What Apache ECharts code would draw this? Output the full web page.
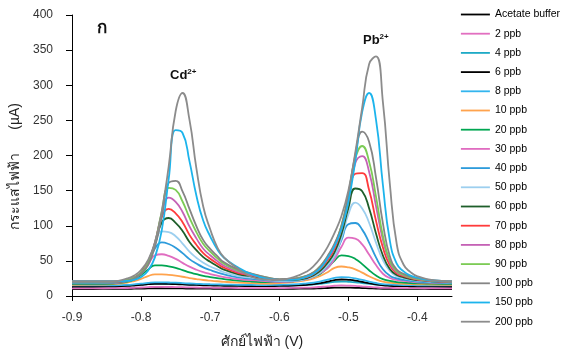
<!DOCTYPE html>
<html lang="th">
<head>
<meta charset="UTF-8">
<title>Cd Pb voltammogram</title>
<script src="https://cdn.jsdelivr.net/npm/echarts@6/dist/echarts.min.js"></script>
<style>
  html, body { margin: 0; padding: 0; background: #fff; }
  #main { width: 562px; height: 354px; }
</style>
</head>
<body>
<div id="main"></div>
<script>
// potential (V), shared by every curve
var potential = [-0.90, -0.87, -0.84, -0.82, -0.81, -0.80, -0.79, -0.78, -0.77, -0.76,
                 -0.75, -0.74, -0.73, -0.72, -0.71, -0.70, -0.69, -0.68, -0.66, -0.64,
                 -0.62, -0.60, -0.58, -0.56, -0.55, -0.54, -0.53, -0.52, -0.51, -0.50,
                 -0.49, -0.48, -0.47, -0.46, -0.45, -0.44, -0.43, -0.42, -0.41, -0.40,
                 -0.38, -0.35];

// current (uA)
var acetateBuffer = [10, 10, 10.1, 10.2, 10.4, 10.6, 10.8, 11, 11, 10.9, 10.9, 10.8, 10.6, 10.5, 10.5, 10.4, 10.3, 10.3, 10.2, 10.1, 10.1, 10.2, 10.3, 10.5, 10.7, 11, 11.4, 11.8, 12, 11.9, 11.7, 11.3, 10.9, 10.6, 10.3, 10.2, 10.1, 10.1, 10.1, 10.1, 10, 10];
var ppb2 = [11, 11, 11.1, 11.4, 11.7, 12.1, 12.7, 13, 13, 12.9, 12.7, 12.5, 12.3, 12.1, 11.9, 11.8, 11.7, 11.6, 11.4, 11.3, 11.2, 11.3, 11.5, 12, 12.4, 13, 13.7, 14.6, 15, 14.8, 14.4, 13.6, 12.9, 12.2, 11.7, 11.5, 11.3, 11.2, 11.2, 11.1, 11, 11];
var ppb4 = [14.5, 14.5, 14.7, 15.1, 15.6, 16.2, 17, 17.5, 17.5, 17.3, 17.1, 16.8, 16.4, 16.1, 15.9, 15.7, 15.5, 15.3, 15.1, 14.9, 14.8, 15, 15.3, 16, 16.5, 17.4, 18.6, 20, 20.5, 20.2, 19.6, 18.5, 17.3, 16.3, 15.5, 15.2, 14.9, 14.8, 14.7, 14.7, 14.6, 14.5];
var ppb6 = [13.5, 13.5, 13.8, 14.3, 14.9, 15.7, 16.8, 17.4, 17.4, 17.2, 16.9, 16.5, 16, 15.7, 15.3, 15, 14.8, 14.6, 14.3, 14.1, 14, 14.3, 14.8, 16, 16.9, 18.4, 20.4, 22.6, 23.5, 23, 22, 20.1, 18.2, 16.4, 15.2, 14.6, 14.2, 14, 13.9, 13.8, 13.6, 13.5];
var ppb8 = [15, 15, 15.3, 15.9, 16.6, 17.5, 18.7, 19.4, 19.4, 19.2, 18.9, 18.4, 17.8, 17.4, 17, 16.7, 16.5, 16.3, 15.9, 15.7, 15.5, 15.9, 16.6, 18, 19, 20.8, 23.2, 25.9, 27, 26.5, 25.1, 22.9, 20.6, 18.5, 17, 16.4, 15.9, 15.6, 15.5, 15.3, 15.1, 15];
var ppb10 = [16, 16.1, 17, 19.1, 21.3, 24.4, 28.4, 30.8, 30.7, 30, 28.9, 27.4, 25.5, 24.1, 22.8, 21.8, 21, 20.2, 19, 18.2, 17.7, 18.3, 19.7, 22.6, 25, 28.8, 33.9, 40, 42, 40.8, 38, 33.2, 28.1, 23.6, 20.4, 18.9, 17.9, 17.4, 17, 16.7, 16.3, 16];
var ppb20 = [17, 17, 17.8, 20.3, 23.6, 30, 37.4, 43.5, 43.5, 42.1, 40, 36.9, 33.5, 31, 28.6, 26.9, 25.4, 24.1, 22, 20.6, 19.8, 19.9, 21, 24.6, 27.7, 32.2, 40.2, 50.6, 57.7, 56.8, 52.8, 45.3, 36.7, 29.3, 23.9, 21.5, 19.9, 19.1, 18.5, 18.1, 17.5, 17];
var ppb30 = [18, 18, 18.5, 21.2, 24.7, 31.9, 44, 57.8, 59.4, 57, 52.9, 47.2, 41.8, 37.4, 33.9, 31.3, 29, 27, 24.1, 22.5, 21.3, 20.1, 21, 24.2, 27.7, 33, 40.2, 52.5, 70, 83, 81.7, 73.4, 59, 44, 31.7, 25.7, 22.8, 21.4, 20.4, 19.6, 18.8, 18];
var ppb40 = [18.5, 18.5, 19, 21.5, 25.2, 33, 46.9, 67.5, 76.3, 74, 68.7, 61, 52.5, 46.2, 40.8, 37, 33.5, 30.7, 26.6, 24.5, 22.6, 21.1, 21.4, 24.7, 28.6, 34.5, 43, 57.7, 79.4, 102.2, 103.9, 94.5, 76, 55, 38, 29, 25, 23, 21.7, 20.6, 19.5, 18.5];
var ppb50 = [19, 19, 19.4, 22, 25.8, 33, 49, 73.8, 92, 91, 85, 74.7, 63.2, 54.5, 47.3, 42, 37.8, 33.8, 28.6, 26.2, 23.7, 21.7, 21.8, 24.6, 28.2, 34.2, 44, 57.8, 82.5, 116, 133, 124.7, 104.3, 76, 51, 35.8, 28.1, 25.5, 23.4, 21.9, 20.4, 19];
var ppb60 = [19.5, 19.5, 19.5, 22, 25.7, 33.2, 48.2, 73.2, 105, 111, 104, 92.5, 77, 65.4, 55.4, 48.6, 42.8, 37.6, 31.2, 27.9, 25, 22.5, 22.7, 25.6, 29.7, 36.6, 47.4, 62.5, 88.3, 125, 153, 149, 125, 89, 57.7, 38.5, 29.9, 26.5, 24, 22.6, 21, 19.5];
var ppb70 = [20, 20, 20, 22.5, 25.8, 33, 48.4, 74.6, 112.4, 124, 117.6, 105, 87, 73, 61, 53, 46.3, 40.3, 33, 29.2, 25.8, 23, 23.6, 27, 31.6, 39.2, 51.2, 67.5, 95, 134, 174, 175, 151, 107, 69, 43.5, 32.5, 28.3, 25.4, 23.5, 21.5, 20];
var ppb80 = [20, 20, 20, 22.5, 26, 32.6, 47.6, 76, 117, 140, 134, 119.6, 99, 82, 67.3, 58, 50, 43, 34.7, 30.2, 26, 23, 24, 27.5, 32, 41, 53.6, 70, 98.5, 140, 189, 199, 177, 128, 80, 48, 34, 29.4, 26, 23.8, 21.6, 20];
var ppb90 = [20.5, 20.5, 20.5, 23, 26, 33, 46, 75, 120, 154, 151, 134.5, 111.5, 91, 74, 63, 54, 46, 36.6, 31.5, 27, 23.6, 24.5, 28.7, 34, 43, 56, 72.5, 100.5, 143.5, 195.5, 213.5, 191.5, 141.5, 85.5, 50, 35.5, 30, 26.5, 24.4, 22, 20.5];
var ppb100 = [20.5, 20.5, 20.5, 22, 25, 32, 44, 70, 114, 161, 164, 149, 124, 99.5, 79.5, 67, 57, 48, 38, 32, 27, 24, 24.6, 29, 34, 43, 57, 74.5, 99.5, 144.5, 200.5, 234, 219.5, 168.5, 103.5, 56.5, 37.5, 31.5, 27.4, 25, 22, 20.5];
var ppb150 = [21, 21, 21, 21.5, 23, 27, 36, 55, 94, 167, 236, 232, 192, 143, 107, 85, 67, 54.5, 41, 31, 25, 23, 23, 27.6, 32, 40, 54, 71, 95, 134, 192, 262, 289, 251, 158, 79, 46, 35, 29, 26, 22.5, 21];
var ppb200 = [21, 21, 21, 25, 29, 37, 51, 76, 121, 185, 263, 289, 251, 182, 127, 95, 70, 55, 39, 27, 23.5, 23, 26.5, 35, 43, 54.5, 70, 90, 114, 150, 204, 268, 330, 341, 276, 160, 74, 44.5, 34, 28, 23, 21];

var seriesNames = ['Acetate buffer', '2 ppb', '4 ppb', '6 ppb', '8 ppb', '10 ppb', '20 ppb', '30 ppb',
                   '40 ppb', '50 ppb', '60 ppb', '70 ppb', '80 ppb', '90 ppb', '100 ppb', '150 ppb', '200 ppb'];
var seriesValues = [acetateBuffer, ppb2, ppb4, ppb6, ppb8, ppb10, ppb20, ppb30,
                    ppb40, ppb50, ppb60, ppb70, ppb80, ppb90, ppb100, ppb150, ppb200];
var seriesColors = ['#000000', '#e26fc0', '#1eaac6', '#000000', '#33b5ee', '#ffa34d', '#00a651', '#e06cc0',
                    '#2d9bdb', '#9ccfef', '#1e5e2a', '#ff3b3b', '#c561b5', '#7ccb55', '#858585', '#1cb4ec', '#8c8c8c'];

var xTicks = [-0.9, -0.8, -0.7, -0.6, -0.5, -0.4];

var font = "'Liberation Sans', Arial, 'DejaVu Sans', sans-serif";

var myChart = echarts.init(document.getElementById('main'));

var series = seriesNames.map(function (name, i) {
    return {
        name: name,
        type: 'line',
        smooth: true,
        symbol: 'none',
        silent: true,
        lineStyle: { color: seriesColors[i], width: 1.8 },
        itemStyle: { color: seriesColors[i] },
        data: potential.map(function (v, j) { return [v, seriesValues[i][j]]; })
    };
});

var option = {
    animation: false,
    backgroundColor: '#fff',
    textStyle: { fontFamily: font },
    grid: { left: 72, right: 110, top: 15, bottom: 58 },
    legend: {
        orient: 'vertical',
        left: 460,
        top: 8.5,
        padding: 0,
        itemWidth: 29,
        itemHeight: 12,
        itemGap: 7.2,
        itemStyle: { opacity: 0 },
        lineStyle: { width: 1.8 },
        data: seriesNames,
        textStyle: { color: '#000', fontSize: 10.5, fontFamily: font, lineHeight: 12 }
    },
    xAxis: {
        type: 'value',
        min: -0.9,
        max: -0.35,
        interval: 0.1,
        name: 'ศักย์ไฟฟ้า (V)',
        nameLocation: 'middle',
        nameGap: 39,
        nameTextStyle: { color: '#222', fontSize: 14, fontFamily: font },
        axisLine: { onZero: false, lineStyle: { color: '#000', width: 1 } },
        axisTick: { length: 5, lineStyle: { color: '#000' }, customValues: xTicks },
        axisLabel: {
            color: '#333', fontSize: 12, margin: 16, customValues: xTicks,
            formatter: function (v) { return v.toFixed(1); }
        },
        splitLine: { show: false }
    },
    yAxis: {
        type: 'value',
        min: 0,
        max: 400,
        interval: 50,
        name: 'กระแสไฟฟ้า      (µA)',
        nameLocation: 'middle',
        nameRotate: 90,
        nameGap: 46,
        nameTextStyle: { color: '#222', fontSize: 14, fontFamily: font, padding: [0, 22, 0, 0] },
        axisLine: { show: true, lineStyle: { color: '#000', width: 1 } },
        axisTick: { show: true, length: 6, lineStyle: { color: '#000' } },
        axisLabel: { color: '#333', fontSize: 12, margin: 19 },
        splitLine: { show: false }
    },
    graphic: [
        { type: 'text', left: 97, top: 20, style: { text: 'ก', font: 'bold 17px ' + font, fill: '#111' } },
        {
            type: 'text', left: 170, top: 68,
            style: {
                text: '{a|Cd}{b|2+}', fill: '#111',
                rich: { a: { font: 'bold 13px ' + font, fill: '#111' }, b: { font: 'bold 8px ' + font, fill: '#111', verticalAlign: 'top', padding: [0, 0, 6, 0] } }
            }
        },
        {
            type: 'text', left: 363, top: 33,
            style: {
                text: '{a|Pb}{b|2+}', fill: '#111',
                rich: { a: { font: 'bold 13px ' + font, fill: '#111' }, b: { font: 'bold 8px ' + font, fill: '#111', verticalAlign: 'top', padding: [0, 0, 6, 0] } }
            }
        }
    ],
    series: series
};

myChart.setOption(option);
</script>
</body>
</html>
